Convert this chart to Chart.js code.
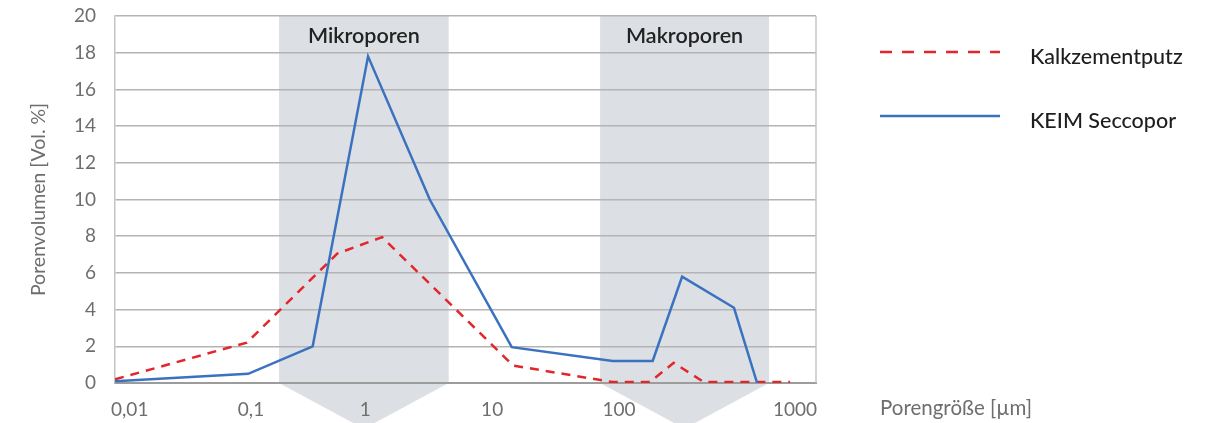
<!DOCTYPE html>
<html>
<head>
<meta charset="utf-8">
<script src="https://cdn.jsdelivr.net/npm/chart.js@4/dist/chart.umd.min.js"></script>
<style>
  html, body { margin: 0; padding: 0; background: #ffffff; }
  #wrap { position: relative; width: 1220px; height: 423px; }
</style>
</head>
<body>
<div id="wrap"><canvas id="c"></canvas></div>
<script>
// ---- data (x in axis position units 0..10 along the pore-size axis) ----
const xTickPos    = [0.21, 1.94, 3.57, 5.38, 7.19, 9.70];
const xTickLabels = ['0,01', '0,1', '1', '10', '100', '1000'];
const yTicks      = [0, 2, 4, 6, 8, 10, 12, 14, 16, 18, 20];

const seriesNames = ['Kalkzementputz', 'KEIM Seccopor'];

const kalkX = [0, 1.88, 3.17, 3.81, 5.68, 7.10, 7.63, 7.97, 8.40, 9.16, 9.63];
const kalkY = [0.2, 2.2, 7.05, 7.95, 0.95, 0.05, 0.05, 1.1, 0.05, 0.05, 0.05];

const keimX = [0, 1.90, 2.82, 3.61, 4.49, 5.66, 7.10, 7.67, 8.09, 8.83, 9.16];
const keimY = [0.1, 0.5, 2.0, 17.8, 10.0, 1.95, 1.2, 1.2, 5.8, 4.1, 0];

const bandNames = ['Mikroporen', 'Makroporen'];
const bandStart = [2.34, 6.92];
const bandEnd   = [4.76, 9.33];

const xTitle = 'Porengröße [µm]';
const yTitle = 'Porenvolumen [Vol. %]';

// ---- styles ----
const FONT = 'Lato, "Noto Sans", sans-serif';
const RED = '#e3262b';
const BLUE = '#3a72c0';
const BAND = '#dcdfe4';
const TICK = '#6e6e6e';

const toPts = (xs, ys) => xs.map((x, i) => ({ x: x, y: ys[i] }));

const bandPlugin = {
  id: 'bands',
  beforeDraw(chart) {
    const { ctx, chartArea: a, scales: { x } } = chart;
    ctx.save();
    ctx.fillStyle = BAND;
    for (let i = 0; i < bandNames.length; i++) {
      const x0 = x.getPixelForValue(bandStart[i]);
      const x1 = x.getPixelForValue(bandEnd[i]);
      const half = (x1 - x0) / 2;
      ctx.beginPath();
      ctx.moveTo(x0, a.top);
      ctx.lineTo(x1, a.top);
      ctx.lineTo(x1, a.bottom);
      ctx.lineTo(x0 + half, a.bottom + half * 0.54);
      ctx.lineTo(x0, a.bottom);
      ctx.closePath();
      ctx.fill();
    }
    ctx.restore();
  },
  beforeDatasetsDraw(chart) {
    const { ctx, chartArea: a, scales: { x } } = chart;
    ctx.save();
    // right frame line
    ctx.strokeStyle = '#c4c4c4';
    ctx.lineWidth = 1.5;
    ctx.beginPath();
    ctx.moveTo(a.right, a.top);
    ctx.lineTo(a.right, a.bottom);
    ctx.stroke();
    // band labels
    ctx.fillStyle = '#222222';
    ctx.font = '600 21.5px ' + FONT;
    ctx.textAlign = 'center';
    ctx.textBaseline = 'middle';
    for (let i = 0; i < bandNames.length; i++) {
      const cx = (x.getPixelForValue(bandStart[i]) + x.getPixelForValue(bandEnd[i])) / 2;
      ctx.fillText(bandNames[i], cx, a.top + 20);
    }
    ctx.restore();
  },
  afterDraw(chart) {
    const { ctx, chartArea: a } = chart;
    ctx.save();
    // legend
    const ds = chart.data.datasets;
    for (let i = 0; i < ds.length; i++) {
      const ly = a.top + 36 + i * 64;
      ctx.strokeStyle = ds[i].borderColor;
      ctx.lineWidth = 2.5;
      ctx.setLineDash(ds[i].borderDash ? [12, 10] : []);
      ctx.beginPath();
      ctx.moveTo(a.right + 64, ly);
      ctx.lineTo(a.right + 184, ly);
      ctx.stroke();
      ctx.setLineDash([]);
      ctx.fillStyle = '#1e1e1e';
      ctx.font = '500 21.5px ' + FONT;
      ctx.textAlign = 'left';
      ctx.textBaseline = 'middle';
      ctx.fillText(ds[i].label, a.right + 214, ly + 5);
    }
    // x axis title at the right of the axis
    ctx.fillStyle = TICK;
    ctx.font = '20.5px ' + FONT;
    ctx.textAlign = 'left';
    ctx.textBaseline = 'middle';
    ctx.fillText(xTitle, a.right + 64, a.bottom + 25);
    ctx.restore();
  }
};

new Chart(document.getElementById('c'), {
  type: 'line',
  data: {
    datasets: [
      {
        label: seriesNames[0],
        data: toPts(kalkX, kalkY),
        borderColor: RED,
        borderWidth: 2.5,
        borderDash: [9, 7],
        pointRadius: 0,
        tension: 0,
        fill: false,
        order: 1
      },
      {
        label: seriesNames[1],
        data: toPts(keimX, keimY),
        borderColor: BLUE,
        borderWidth: 2.5,
        pointRadius: 0,
        tension: 0,
        fill: false,
        order: 0
      }
    ]
  },
  options: {
    responsive: true,
    maintainAspectRatio: false,
    animation: false,
    layout: { padding: { left: 0, top: 16, right: 404, bottom: 0 } },
    plugins: {
      legend: { display: false },
      tooltip: { enabled: false }
    },
    scales: {
      x: {
        type: 'linear',
        min: 0,
        max: 10,
        afterFit(scale) { scale.height = 40; },
        afterBuildTicks(scale) { scale.ticks = xTickPos.map(v => ({ value: v })); },
        ticks: {
          autoSkip: false,
          maxRotation: 0,
          padding: 15,
          color: TICK,
          font: { family: FONT, size: 19 },
          callback(value) {
            const i = xTickPos.indexOf(value);
            return i >= 0 ? xTickLabels[i] : '';
          }
        },
        grid: { display: false, drawTicks: false },
        border: { display: true, color: '#9c9c9c', width: 2 }
      },
      y: {
        type: 'linear',
        min: 0,
        max: 20,
        afterFit(scale) {
          scale.width = 115;
          scale.paddingTop = 0;
          scale.paddingBottom = 0;
        },
        afterBuildTicks(scale) { scale.ticks = yTicks.map(v => ({ value: v })); },
        ticks: {
          padding: 19,
          color: TICK,
          font: { family: FONT, size: 19 }
        },
        grid: { color: '#b4b4b4', lineWidth: 1.5, drawTicks: false },
        border: { display: true, color: '#c4c4c4', width: 1.5 },
        title: {
          display: true,
          text: yTitle,
          color: TICK,
          font: { family: FONT, size: 19.5 },
          padding: { top: 27, bottom: 0 }
        }
      }
    }
  },
  plugins: [bandPlugin]
});
</script>
</body>
</html>
